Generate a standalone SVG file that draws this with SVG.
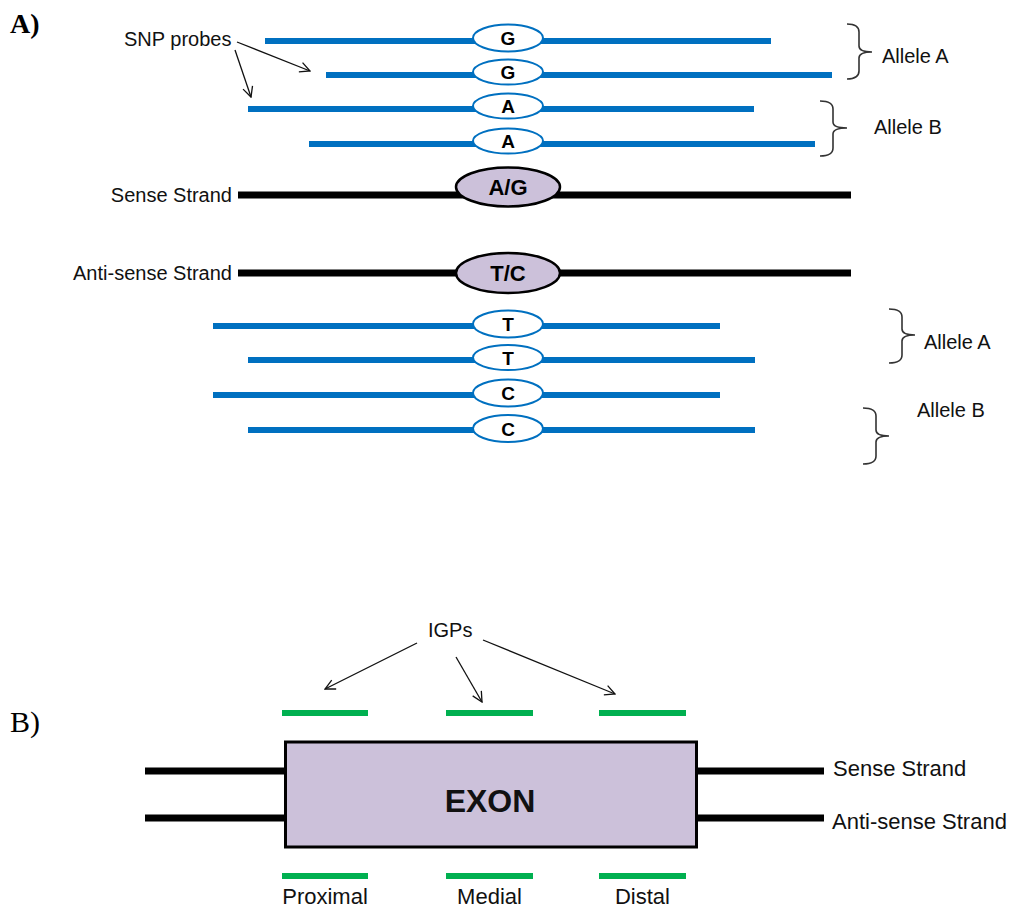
<svg xmlns="http://www.w3.org/2000/svg" width="1015" height="909" viewBox="0 0 1015 909">
<style>
.lbl{font-family:"Liberation Sans",Arial,sans-serif;font-size:20px;fill:#111}
.big{font-family:"Liberation Sans",Arial,sans-serif;font-size:22px;fill:#111}
.probe{stroke:#0070C0;stroke-width:6;fill:none}
.pe{fill:#fff;stroke:#0070C0;stroke-width:2}
.pl{font-family:"Liberation Sans",Arial,sans-serif;font-size:19px;font-weight:bold;text-anchor:middle;fill:#000}
.strand{stroke:#000;stroke-width:7;fill:none}
.snp{fill:#CCC1DA;stroke:#000;stroke-width:2.5}
.sl{font-family:"Liberation Sans",Arial,sans-serif;font-size:22px;font-weight:bold;text-anchor:middle;fill:#000}
.brace{fill:none;stroke:#333;stroke-width:1.6}
.arr{stroke:#111;stroke-width:1.3;fill:none;marker-end:url(#ah)}
.igp{stroke:#00B050;stroke-width:6}
.panel{font-family:"Liberation Serif","Times New Roman",serif;fill:#000}
</style>
<defs>
<marker id="ah" viewBox="0 0 12 12" refX="11" refY="6" markerWidth="12" markerHeight="12" markerUnits="userSpaceOnUse" orient="auto">
<path d="M1,1 L11,6 L1,11" fill="none" stroke="#111" stroke-width="1.3"/>
</marker>
</defs>

<text class="panel" x="10" y="33" font-size="28" font-weight="bold">A)</text>
<text class="panel" x="10" y="732" font-size="30">B)</text>

<g id="snp-probes-label"><text class="lbl" x="124" y="46">SNP probes</text></g>

<g id="probe-sense-1"><line class="probe" x1="265" y1="41" x2="771" y2="41"/><ellipse class="pe" cx="508" cy="38" rx="35" ry="13.5"/><text class="pl" x="508" y="45">G</text></g>
<g id="probe-sense-2"><line class="probe" x1="326" y1="75" x2="832" y2="75"/><ellipse class="pe" cx="508" cy="72" rx="35" ry="12.5"/><text class="pl" x="508" y="79">G</text></g>
<g id="probe-sense-3"><line class="probe" x1="248" y1="109" x2="754" y2="109"/><ellipse class="pe" cx="508" cy="106" rx="35" ry="12.5"/><text class="pl" x="508" y="113">A</text></g>
<g id="probe-sense-4"><line class="probe" x1="309" y1="144" x2="815" y2="144"/><ellipse class="pe" cx="508" cy="141" rx="35" ry="12.5"/><text class="pl" x="508" y="148">A</text></g>

<g id="brace-top-A"><path class="brace" d="M847,24 Q859,24 859,32 L859,46 Q859,52 872,52 Q859,52 859,58 L859,71 Q859,79 847,79"/><text class="lbl" x="882" y="63">Allele A</text></g>
<g id="brace-top-B"><path class="brace" d="M820,101 Q833,101 833,109 L833,122 Q833,128 847,128 Q833,128 833,134 L833,148 Q833,156 820,156"/><text class="lbl" x="874" y="134">Allele B</text></g>

<g id="sense-strand"><text class="lbl" x="232" y="202" text-anchor="end">Sense Strand</text><line class="strand" x1="238" y1="195" x2="851" y2="195"/><ellipse class="snp" cx="508" cy="187" rx="52" ry="19.5"/><text class="sl" x="508" y="195">A/G</text></g>
<g id="antisense-strand"><text class="lbl" x="232" y="280" text-anchor="end">Anti-sense Strand</text><line class="strand" x1="238" y1="273" x2="851" y2="273"/><ellipse class="snp" cx="508" cy="273" rx="52" ry="20"/><text class="sl" x="508" y="281">T/C</text></g>

<g id="probe-anti-1"><line class="probe" x1="213" y1="326" x2="720" y2="326"/><ellipse class="pe" cx="508" cy="324" rx="35" ry="13.5"/><text class="pl" x="508" y="331">T</text></g>
<g id="probe-anti-2"><line class="probe" x1="248" y1="360" x2="755" y2="360"/><ellipse class="pe" cx="508" cy="357.5" rx="35" ry="12.5"/><text class="pl" x="508" y="365">T</text></g>
<g id="probe-anti-3"><line class="probe" x1="213" y1="395" x2="720" y2="395"/><ellipse class="pe" cx="508" cy="393" rx="35" ry="13.5"/><text class="pl" x="508" y="400">C</text></g>
<g id="probe-anti-4"><line class="probe" x1="248" y1="430" x2="755" y2="430"/><ellipse class="pe" cx="508" cy="428.5" rx="35" ry="13.5"/><text class="pl" x="508" y="436">C</text></g>

<g id="brace-bot-A"><path class="brace" d="M889,309 Q902,309 902,317 L902,329 Q902,335 915,335 Q902,335 902,341 L902,355 Q902,363 889,363"/><text class="lbl" x="924" y="349">Allele A</text></g>
<g id="brace-bot-B"><path class="brace" d="M863,408 Q876,408 876,416 L876,430 Q876,436 889,436 Q876,436 876,442 L876,456 Q876,464 863,464"/><text class="lbl" x="917" y="417">Allele B</text></g>

<g id="igps-label"><text class="lbl" x="428" y="637">IGPs</text></g>

<g id="exon">
<line class="strand" x1="145" y1="771" x2="287" y2="771" stroke-width="8"/>
<line class="strand" x1="145" y1="818" x2="287" y2="818" stroke-width="8"/>
<line class="strand" x1="695" y1="771" x2="824" y2="771" stroke-width="8"/>
<line class="strand" x1="695" y1="818" x2="824" y2="818" stroke-width="8"/>
<rect x="285.5" y="742" width="411" height="105" fill="#CCC1DA" stroke="#000" stroke-width="3"/>
<text x="490" y="812" font-family="Liberation Sans,Arial,sans-serif" font-size="32" font-weight="bold" text-anchor="middle" fill="#111">EXON</text>
<text class="big" x="833" y="776">Sense Strand</text>
<text class="big" x="832" y="829">Anti-sense Strand</text>
</g>

<g id="igp-proximal"><line class="igp" x1="282" y1="713" x2="368" y2="713"/><line class="igp" x1="282" y1="876" x2="368" y2="876"/><text class="big" x="325" y="904" text-anchor="middle">Proximal</text></g>
<g id="igp-medial"><line class="igp" x1="446" y1="713" x2="533" y2="713"/><line class="igp" x1="446" y1="876" x2="533" y2="876"/><text class="big" x="489.5" y="904" text-anchor="middle">Medial</text></g>
<g id="igp-distal"><line class="igp" x1="599" y1="713" x2="686" y2="713"/><line class="igp" x1="599" y1="876" x2="686" y2="876"/><text class="big" x="642.5" y="904" text-anchor="middle">Distal</text></g>

<g id="connectors">
<line class="arr" x1="237" y1="42" x2="310" y2="71"/>
<line class="arr" x1="235" y1="50" x2="251" y2="97"/>
<line class="arr" x1="417" y1="643" x2="325" y2="689"/>
<line class="arr" x1="456" y1="657" x2="482" y2="702"/>
<line class="arr" x1="483" y1="640" x2="615" y2="694"/>
</g>
</svg>
